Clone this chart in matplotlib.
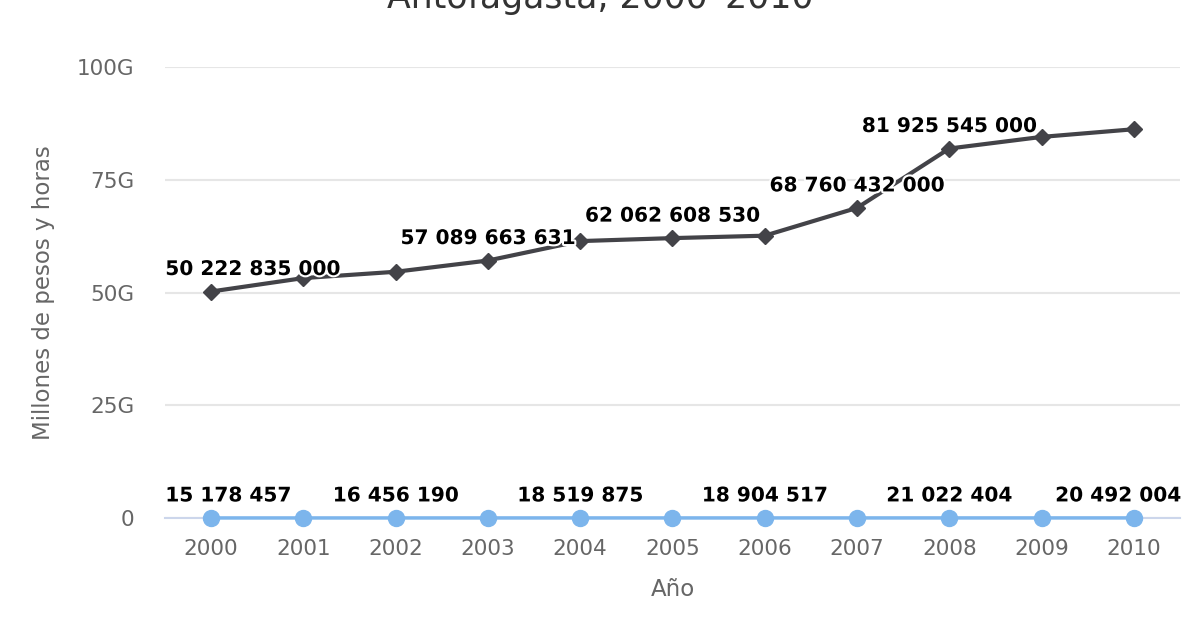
import matplotlib.pyplot as plt
import matplotlib.patheffects as pe
from matplotlib.ticker import FixedLocator

# datos
years = ['2000', '2001', '2002', '2003', '2004', '2005',
         '2006', '2007', '2008', '2009', '2010']
pesos = [50222835000, 53200000000, 54600000000, 57089663631, 61400000000,
         62062608530, 62600000000, 68760432000, 81925545000, 84500000000,
         86200000000]
horas = [15178457, 15800000, 16456190, 17500000, 18519875, 18700000,
         18904517, 20000000, 21022404, 21500000, 20492004]
pesos_labels = ['50 222 835 000', None, None, '57 089 663 631', None,
                '62 062 608 530', None, '68 760 432 000', '81 925 545 000',
                None, None]
horas_labels = ['15 178 457', None, '16 456 190', None, '18 519 875', None,
                '18 904 517', None, '21 022 404', None, '20 492 004']
y_ticks = [0, 25e9, 50e9, 75e9, 100e9]
y_tick_labels = ['0', '25G', '50G', '75G', '100G']

fig = plt.figure(figsize=(12, 6.4), dpi=100)
ax = fig.add_axes([0.1375, 0.1906, 0.8458, 0.7047])

x = list(range(len(years)))
ax.plot(x, horas, color='#7cb5ec', lw=2.5, marker='o', ms=11.5, clip_on=False, zorder=4)
ax.plot(x, pesos, color='#434348', lw=3, marker='D', ms=8, clip_on=False, zorder=4)

outline = [pe.withStroke(linewidth=3, foreground='white')]


def add_labels(vals, labels):
    n = len(vals)
    for i, (v, t) in enumerate(zip(vals, labels)):
        if t is None:
            continue
        ha, dx = 'center', 0
        if i == 0:
            ha, dx = 'left', -33
        elif i == n - 1:
            ha, dx = 'right', 34
        ax.annotate(t, (i, v), xytext=(dx, 9), textcoords='offset points',
                    ha=ha, va='bottom', fontsize=14.5, fontweight='bold',
                    color='black', path_effects=outline, zorder=6)


add_labels(pesos, pesos_labels)
add_labels(horas, horas_labels)

ax.set_xlim(-0.5, len(years) - 0.5)
ax.set_ylim(0, 100e9)
ax.set_xticks(x)
ax.set_xticklabels(years)
ax.yaxis.set_major_locator(FixedLocator(y_ticks))
ax.set_yticklabels(y_tick_labels)
ax.tick_params(axis='both', length=0, labelsize=15.5, labelcolor='#666666')
ax.tick_params(axis='y', pad=22)
ax.tick_params(axis='x', pad=15)

ax.grid(axis='y', color='#e6e6e6', lw=1.5)
ax.set_axisbelow(True)
for s in ['top', 'right', 'left']:
    ax.spines[s].set_visible(False)
ax.spines['bottom'].set_color('#ccd6eb')
ax.spines['bottom'].set_linewidth(1.5)

ax.set_xlabel('Año', fontsize=16.5, color='#666666', labelpad=14)
ax.set_ylabel('Millones de pesos y horas', fontsize=16.5, color='#666666', labelpad=16)

fig.text(0.5, 0.988, 'Antofagasta, 2000–2010', ha='center', va='baseline',
         fontsize=25, color='#333333')

plt.savefig('out.png')
